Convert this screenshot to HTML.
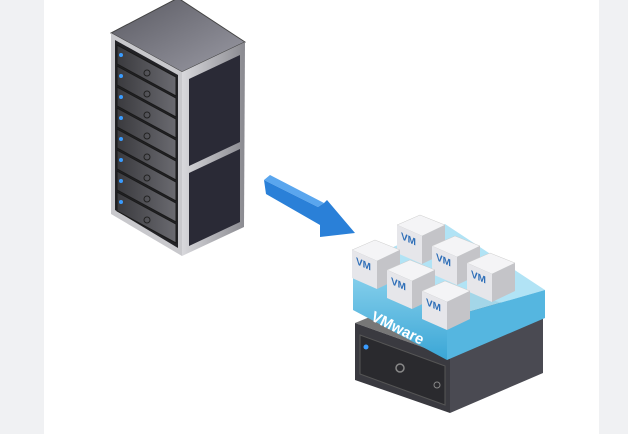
<!DOCTYPE html>
<html><head><meta charset="utf-8"><style>
html,body{margin:0;padding:0;width:628px;height:434px;overflow:hidden;background:#fff}
</style></head><body>
<svg width="628" height="434" viewBox="0 0 628 434" xmlns="http://www.w3.org/2000/svg" style="display:block">
<defs>
<linearGradient id="top" x1="0" y1="0" x2="1" y2="1"><stop offset="0" stop-color="#5a5a62"/><stop offset="1" stop-color="#9a9aa4"/></linearGradient>
<linearGradient id="side" x1="0" y1="0" x2="1" y2="0"><stop offset="0" stop-color="#d8d8dc"/><stop offset="1" stop-color="#8a8a90"/></linearGradient>
<linearGradient id="unit" x1="0" y1="0" x2="1" y2="0"><stop offset="0" stop-color="#3a3a3e"/><stop offset="1" stop-color="#6a6a70"/></linearGradient>
<linearGradient id="slabL" x1="0" y1="0" x2="0" y2="1"><stop offset="0" stop-color="#8fd4ee"/><stop offset="1" stop-color="#3aa6d6"/></linearGradient>
<g id="cube">
<polygon points="0,0 -25,-11 -2,-21 23,-11" fill="#f4f4f6" stroke="#ccc" stroke-width="0.5"/>
<polygon points="0,0 -25,-11 -25,17 0,28" fill="#e6e6ea"/>
<polygon points="0,0 23,-11 23,17 0,28" fill="#c4c4c8"/>
<text x="0" y="0" transform="translate(-21,3) skewY(24)" font-family="Liberation Sans, sans-serif" font-weight="bold" font-size="10" fill="#2f6fb8">VM</text>
</g>
</defs>
<rect x="0" y="0" width="44" height="434" fill="#f0f1f3"/>
<rect x="599" y="0" width="29" height="434" fill="#f0f1f3"/>

<!-- Rack -->
<polygon points="178,-2 245,42 182,72 111,33" fill="url(#top)" stroke="#444" stroke-width="1"/>
<polygon points="182,72 245,42 244,227 182,256" fill="url(#side)"/>
<polygon points="189,79 240,55 240,142 189,166" fill="#2a2a36"/>
<polygon points="189,173 240,149 240,222 189,246" fill="#2a2a36"/>
<polygon points="111,33 182,72 182,256 111,214" fill="#c8c8cc"/>
<polygon points="115,40 178,75 178,248 115,210" fill="#222226"/>
<g id="units">
<polygon points="117,45 176,77 176,96 117,64" fill="url(#unit)" stroke="#1a1a1a"/>
<circle cx="121" cy="55" r="2" fill="#3a9cff"/>
<circle cx="147" cy="73" r="3" fill="none" stroke="#222"/>
</g>
<use href="#units" y="21"/><use href="#units" y="42"/><use href="#units" y="63"/>
<use href="#units" y="84"/><use href="#units" y="105"/><use href="#units" y="126"/><use href="#units" y="147"/>

<!-- Arrow -->
<polygon points="264,180 270,175 324,203 318,207" fill="#5aa6ee"/>
<polygon points="264,180 266,194 320,225 320,237 355,233 327,200 324,203 318,207" fill="#2a80d8"/>

<!-- Base server -->
<polygon points="355,323 450,357 543,317 448,285" fill="#777"/>
<polygon points="355,323 450,357 450,413 355,380" fill="#3a3a40"/>
<polygon points="450,357 543,317 543,373 450,413" fill="#4a4a52"/>
<polygon points="360,335 445,366 445,405 360,374" fill="#2a2a2e" stroke="#555"/>
<circle cx="366" cy="347" r="2.5" fill="#3a9cff"/>
<circle cx="400" cy="368" r="4" fill="none" stroke="#888" stroke-width="1.5"/>
<circle cx="437" cy="385" r="3" fill="none" stroke="#888"/>

<!-- Blue slab -->
<polygon points="353,265 445,224 545,290 447,318" fill="#a8e0f4" opacity="0.9"/>
<polygon points="353,265 447,318 447,360 353,310" fill="url(#slabL)"/>
<polygon points="447,318 545,290 545,318 447,360" fill="#55b6e0"/>
<text x="0" y="0" transform="translate(370,320) rotate(26)" font-family="Liberation Sans, sans-serif" font-weight="bold" font-size="15" fill="#fff">VMware</text>

<!-- VM cubes -->
<use href="#cube" x="422" y="236"/>
<use href="#cube" x="457" y="257"/>
<use href="#cube" x="377" y="261"/>
<use href="#cube" x="492" y="274"/>
<use href="#cube" x="412" y="281"/>
<use href="#cube" x="447" y="302"/>
</svg>
</body></html>
